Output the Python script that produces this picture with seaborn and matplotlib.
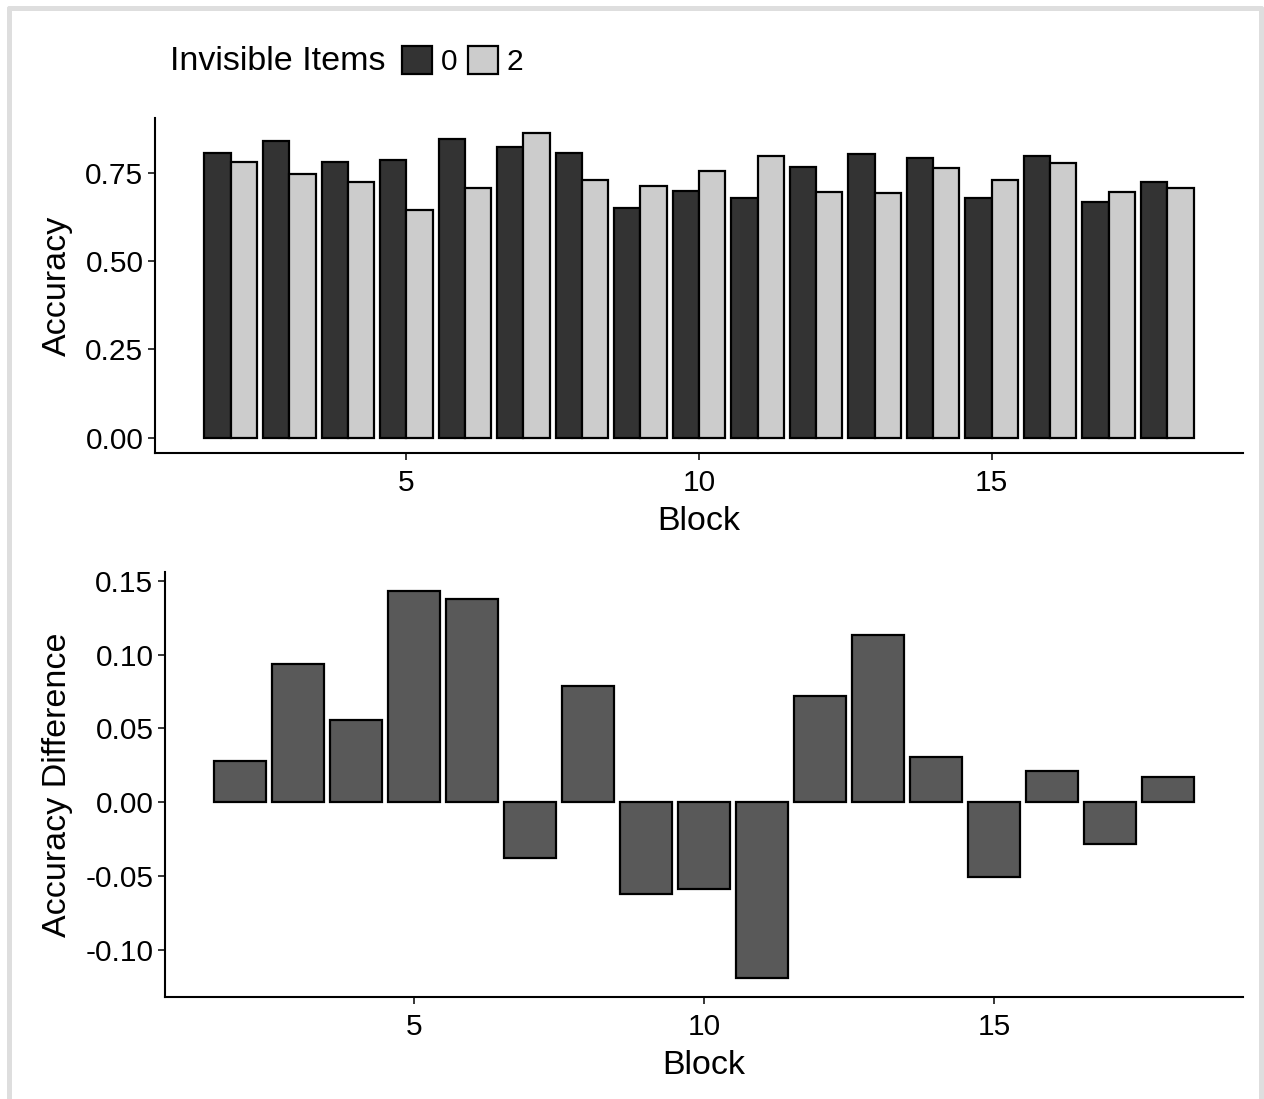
import pandas as pd
import matplotlib
matplotlib.use("Agg")
import matplotlib.pyplot as plt
from matplotlib.lines import Line2D
import seaborn as sns

# Values
blocks = list(range(2, 19))
acc_items0 = [0.807, 0.839, 0.781, 0.786, 0.845, 0.824, 0.807, 0.650, 0.697,
              0.678, 0.766, 0.804, 0.793, 0.678, 0.797, 0.667, 0.725]
acc_items2 = [0.781, 0.746, 0.725, 0.644, 0.707, 0.862, 0.729, 0.713, 0.754,
              0.797, 0.696, 0.692, 0.763, 0.729, 0.777, 0.696, 0.707]
acc_diff = [0.0276, 0.0937, 0.0558, 0.143, 0.138, -0.0375, 0.0786, -0.062, -0.059,
            -0.119, 0.072, 0.1133, 0.0308, -0.051, 0.0211, -0.028, 0.0172]
item_levels = ["0", "2"]

df = pd.DataFrame({
    "Block": blocks * 2,
    "Items": ["0"] * len(blocks) + ["2"] * len(blocks),
    "Accuracy": acc_items0 + acc_items2,
})

sns.set_theme(style="ticks")
plt.rcParams["font.family"] = ["Liberation Sans", "DejaVu Sans"]
plt.rcParams["text.color"] = "black"
plt.rcParams["axes.labelcolor"] = "black"

W, H = 1264, 1099
fig = plt.figure(figsize=(W / 100, H / 100), dpi=100)

def px_axes(left, top, right, bottom):
    return fig.add_axes([left / W, 1 - bottom / H, (right - left) / W, (bottom - top) / H])

tick_fs = 21.5
label_fs = 24.5

# Top panel: grouped accuracy bars
ax1 = px_axes(155, 118, 1243, 453)
sns.barplot(data=df, x="Block", y="Accuracy", hue="Items", hue_order=item_levels,
            palette={"0": "#333333", "2": "#cccccc"}, native_scale=True, width=0.9,
            saturation=1, errorbar=None, edgecolor="black", linewidth=1.6, ax=ax1)
handles, labels = ax1.get_legend_handles_labels()
ax1.get_legend().remove()
ax1.set_xlim(0.705, 19.295)
ax1.set_ylim(-0.0431, 0.905)
ax1.set_yticks([0, 0.25, 0.5, 0.75])
ax1.set_yticklabels(["0.00", "0.25", "0.50", "0.75"])
ax1.set_ylabel("Accuracy", fontsize=label_fs, labelpad=9)

# Bottom panel: accuracy difference
ax2 = px_axes(165, 572, 1243, 997)
sns.barplot(x=blocks, y=acc_diff, native_scale=True, width=0.9, color="#595959",
            saturation=1, errorbar=None, edgecolor="black", linewidth=1.6, ax=ax2)
ax2.set_xlim(0.705, 19.295)
ax2.set_ylim(-0.132, 0.156)
ax2.set_yticks([-0.10, -0.05, 0.0, 0.05, 0.10, 0.15])
ax2.set_yticklabels(["-0.10", "-0.05", "0.00", "0.05", "0.10", "0.15"])
ax2.set_ylabel("Accuracy Difference", fontsize=label_fs, labelpad=9)

for ax in (ax1, ax2):
    ax.set_xticks([5, 10, 15])
    ax.set_xticklabels(["5", "10", "15"])
    ax.set_xlabel("Block", fontsize=label_fs, labelpad=7)
    sns.despine(ax=ax)
    for s in ("left", "bottom"):
        ax.spines[s].set_linewidth(1.5)
        ax.spines[s].set_color("black")
    ax.tick_params(labelsize=tick_fs, length=4.7, width=1.1, colors="black")
    ax.tick_params(axis="y", pad=3.6)
    ax.tick_params(axis="x", pad=6.5)
    ax.set_facecolor("white")

# Legend at the top, title to the left of the keys
fig.text(170 / W, 1 - 61 / H, "Invisible Items", fontsize=label_fs, va="center", ha="left")
fig.legend(handles, labels, loc="center left", bbox_to_anchor=(402 / W, 1 - 61 / H),
           ncol=2, frameon=False, fontsize=tick_fs, handlelength=1.0, handleheight=1.1,
           handletextpad=0.3, columnspacing=0.35, borderpad=0, borderaxespad=0)

# light grey frame around the picture
frame = dict(color="#dedede", linewidth=3.6, transform=fig.transFigure)
fig.add_artist(Line2D([8.5 / W, 8.5 / W], [0, 1 - 7.5 / H], **frame))
fig.add_artist(Line2D([8.5 / W, 1261 / W], [1 - 7.5 / H, 1 - 7.5 / H], **frame))
fig.add_artist(Line2D([1261 / W, 1261 / W], [0, 1 - 7.5 / H], **frame))

fig.savefig("out.png", dpi=100, facecolor="white")
